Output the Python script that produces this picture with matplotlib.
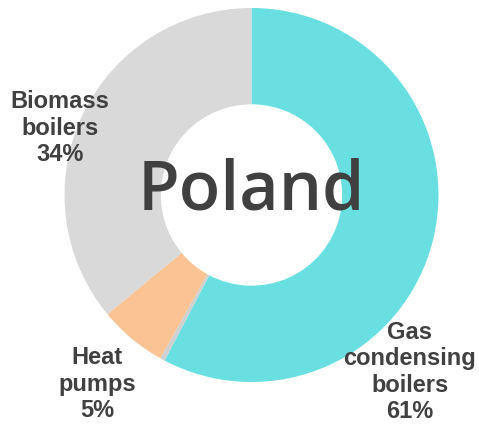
import matplotlib
matplotlib.use("Agg")
import matplotlib.pyplot as plt

# shares as drawn in the picture (clockwise from 12 o'clock)
segments = ["Gas condensing boilers", "Other", "Heat pumps", "Biomass boilers"]
shares = [57.7, 0.4, 5.9, 36.0]
colors = ["#69DFE1", "#D0D0D0", "#F9C393", "#D9D9D9"]

# label texts shown next to the ring
label_texts = ["Gas\ncondensing\nboilers\n61%", "Heat\npumps\n5%", "Biomass\nboilers\n34%"]
label_pos = [(410, 372), (97, 384), (60, 128)]  # pixel positions (x, y from top)

W, H = 479, 425
fig = plt.figure(figsize=(W / 100, H / 100), dpi=100)
ax = fig.add_axes([0, 0, 1, 1])

cx, cy, R = 251.5, H - 195, 187
ax.pie(shares, colors=colors, startangle=90, counterclock=False,
       center=(cx, cy), radius=R, frame=True,
       wedgeprops=dict(width=R * 0.515, linewidth=0))

ax.set_xlim(0, W)
ax.set_ylim(0, H)
ax.set_aspect("equal")
ax.axis("off")

for txt, (x, y) in zip(label_texts, label_pos):
    ax.text(x, H - y, txt, ha="center", va="center", fontsize=17,
            fontweight="bold", color="#404040", family="Liberation Sans",
            linespacing=1.18)

ax.text(cx, cy + 3, "Poland", ha="center", va="center", fontsize=49,
        fontweight="semibold", color="#404040", family="Open Sans")

fig.savefig("out.png", dpi=100)
